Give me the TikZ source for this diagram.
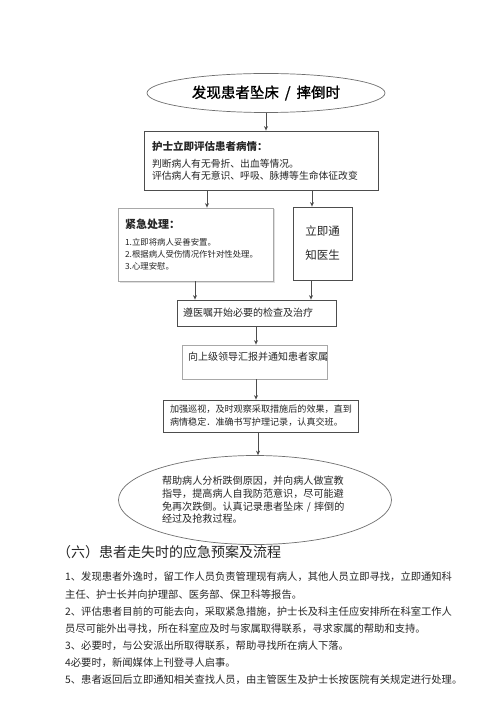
\documentclass[tikz,border=0pt]{standalone}
\usepackage{fontspec}
\setmainfont{Noto Sans CJK SC}
\newfontfamily\heavycjk[FakeBold=1.2]{Noto Sans CJK SC}
\usetikzlibrary{arrows.meta,shapes.geometric,shadows}
\definecolor{dkgray}{HTML}{4D4D4D}
\definecolor{ltgray}{HTML}{A8A8A8}
\definecolor{ovgray}{HTML}{6E6E6E}
\definecolor{txt}{HTML}{262626}
\begin{document}
\begin{tikzpicture}[x=1pt,y=-1pt,
  every node/.style={text=txt},
  box/.style={draw=dkgray,line width=0.8pt,rectangle,inner sep=0pt,fill=white},
  lbox/.style={draw=ltgray,line width=0.8pt,rectangle,inner sep=0pt,fill=white},
  oval/.style={draw=ovgray,line width=0.7pt,ellipse,inner sep=0pt},
  arr/.style={draw=dkgray,line width=0.8pt,-{Stealth[length=4.5pt,width=4pt]}},
  para/.style={anchor=west,inner sep=0pt,font=\fontsize{10.3}{12}\selectfont}]
\useasboundingbox[fill=white] (0,0) rectangle (500,708);

% top ellipse
\node[oval,minimum width=238pt,minimum height=39pt,font=\heavycjk\fontsize{14.5}{16}\selectfont,text=black] (e1) at (266,93) {发现患者坠床\hspace{6pt}/\hspace{6pt}摔倒时};

% box 1
\node[box,minimum width=234pt,minimum height=59pt,align=left,text width=218pt] (b1) at (261,160.5)
  {\fontsize{10.5}{12}\selectfont\bfseries 护士立即评估患者病情：\\[4pt]\fontsize{9.8}{13}\selectfont\mdseries 判断病人有无骨折、出血等情况。\\评估病人有无意识、呼吸、脉搏等生命体征改变};

% box 2
\node[lbox,drop shadow={shadow xshift=1.5pt,shadow yshift=-1.5pt,opacity=0.25},minimum width=155pt,minimum height=73pt,align=left,text width=141pt] (b2) at (195.5,244.5)
  {\fontsize{11}{13}\selectfont\bfseries 紧急处理：\\[5pt]\fontsize{8.4}{12.4}\selectfont\mdseries 1.立即将病人妥善安置。\\2.根据病人受伤情况作针对性处理。\\3.心理安慰。};

% box 3
\node[box,minimum width=59pt,minimum height=73pt,align=center,font=\fontsize{11.5}{24}\selectfont] (b3) at (322.5,243.5)
  {立即通\\知医生};

% box 4
\node[box,minimum width=159pt,minimum height=26pt,align=left,text width=147pt,font=\fontsize{10}{12}\selectfont] (b4) at (256.5,313)
  {遵医嘱开始必要的检查及治疗};

% box 5
\node[lbox,minimum width=145pt,minimum height=34pt,align=left,text width=133pt,text height=8pt,text depth=12pt,font=\fontsize{10}{12}\selectfont] (b5) at (254.5,362)
  {向上级领导汇报并通知患者家属};

% box 6
\node[box,minimum width=195pt,minimum height=32pt,align=left,text width=181pt,font=\fontsize{9.1}{13}\selectfont] (b6) at (260.5,416)
  {加强巡视，及时观察采取措施后的效果，直到\\病情稳定．准确书写护理记录，认真交班。};

% bottom ellipse
\node[oval,minimum width=273pt,minimum height=89pt,align=left,text width=186pt,font=\fontsize{10.1}{12.6}\selectfont] (e2) at (255,500)
  {帮助病人分析跌倒原因，并向病人做宣教\\指导，提高病人自我防范意识，尽可能避\\免再次跌倒。认真记录患者坠床 / 摔倒的\\经过及抢救过程。};

% connectors
\coordinate (xa) at (207,0);
\coordinate (xb) at (312,0);
\coordinate (xc) at (195,0);
\coordinate (xd) at (311,0);
\coordinate (xe) at (256,0);
\coordinate (xf) at (258,0);
\draw[arr] (e1.south) -- (e1.south |- b1.north);
\draw[arr] (b1.south -| xa) -- (b2.north -| xa);
\draw[arr] (b1.south -| xb) -- (b3.north -| xb);
\draw[arr] (b2.south -| xc) -- (b4.north -| xc);
\draw[arr] (b3.south -| xd) -- (b4.north -| xd);
\draw[arr] (b4.south -| xe) -- (b5.north -| xe);
\draw[arr] (b5.south -| xe) -- (b6.north -| xe);
\draw[arr] (b6.south -| xf) -- (e2.north -| xf);

% section text
\node[anchor=west,inner sep=0pt,font=\fontsize{14}{16}\selectfont] (h) at (57,552) {（六）患者走失时的应急预案及流程};
\node[para] (p1) at (65,577) {1、发现患者外逸时，留工作人员负责管理现有病人，其他人员立即寻找，立即通知科};
\node[para] (p2) at (65,594.5) {主任、护士长并向护理部、医务部、保卫科等报告。};
\node[para] (p3) at (65,612) {2、评估患者目前的可能去向，采取紧急措施，护士长及科主任应安排所在科室工作人};
\node[para] (p4) at (65,629) {员尽可能外出寻找，所在科室应及时与家属取得联系，寻求家属的帮助和支持。};
\node[para] (p5) at (65,646) {3、必要时，与公安派出所取得联系，帮助寻找所在病人下落。};
\node[para] (p6) at (65,663) {4必要时，新闻媒体上刊登寻人启事。};
\node[para] (p7) at (65,680) {5、患者返回后立即通知相关查找人员，由主管医生及护士长按医院有关规定进行处理。};
\end{tikzpicture}
\end{document}
